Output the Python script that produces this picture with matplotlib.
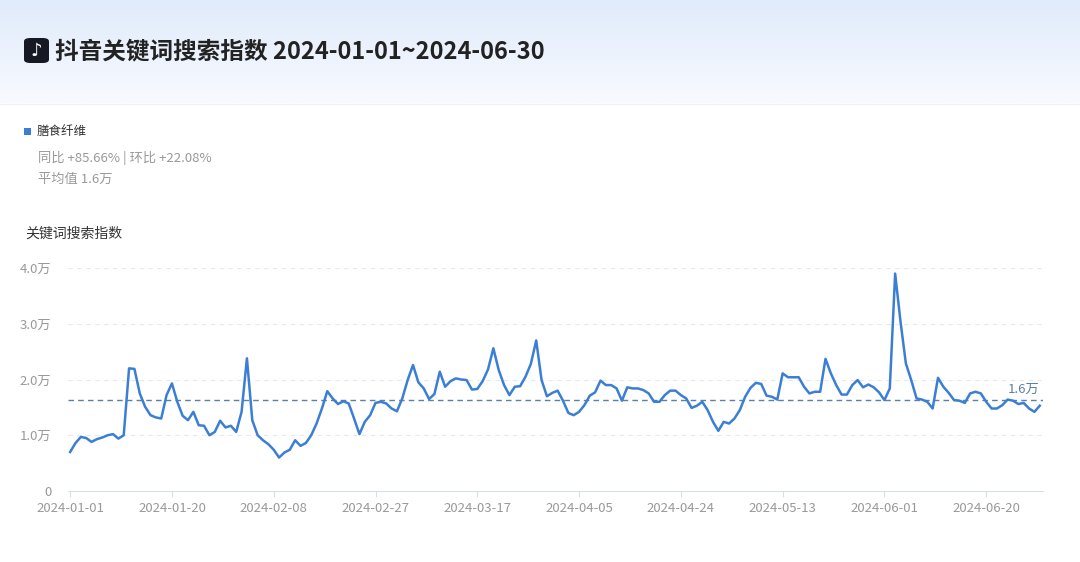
import numpy as np
import pandas as pd
import matplotlib
matplotlib.use('Agg')
import matplotlib.pyplot as plt
from matplotlib.patches import FancyBboxPatch, Rectangle

plt.rcParams['font.family'] = ['Noto Sans CJK SC', 'DejaVu Sans']

# 数据：2024-01-01 ~ 2024-06-30 每日搜索指数（单位：万）
dates = pd.date_range('2024-01-01', '2024-06-30', freq='D')
values = [
    0.70, 0.86, 0.97, 0.95, 0.88, 0.93, 0.96, 1.00, 1.02, 0.94,
    1.00, 2.20, 2.19, 1.75, 1.51, 1.36, 1.32, 1.30, 1.72, 1.93,
    1.60, 1.35, 1.27, 1.42, 1.18, 1.17, 1.00, 1.06, 1.26, 1.14,
    1.17, 1.06, 1.42, 2.38, 1.27, 1.00, 0.91, 0.84, 0.74, 0.60,
    0.69, 0.74, 0.91, 0.81, 0.86, 1.00, 1.21, 1.48, 1.79, 1.66,
    1.56, 1.61, 1.57, 1.30, 1.02, 1.24, 1.36, 1.58, 1.60, 1.57,
    1.48, 1.43, 1.66, 1.99, 2.26, 1.95, 1.84, 1.65, 1.74, 2.14,
    1.87, 1.97, 2.02, 2.00, 1.99, 1.82, 1.83, 1.97, 2.18, 2.56,
    2.17, 1.90, 1.72, 1.87, 1.88, 2.05, 2.28, 2.70, 1.99, 1.70,
    1.76, 1.80, 1.62, 1.40, 1.36, 1.42, 1.54, 1.71, 1.77, 1.98,
    1.90, 1.90, 1.84, 1.62, 1.86, 1.84, 1.84, 1.81, 1.75, 1.60,
    1.60, 1.72, 1.80, 1.80, 1.72, 1.66, 1.49, 1.53, 1.60, 1.45,
    1.24, 1.08, 1.24, 1.21, 1.30, 1.45, 1.69, 1.85, 1.94, 1.92,
    1.71, 1.69, 1.64, 2.11, 2.04, 2.04, 2.04, 1.87, 1.75, 1.78,
    1.78, 2.37, 2.11, 1.90, 1.73, 1.73, 1.90, 1.99, 1.86, 1.91,
    1.86, 1.77, 1.63, 1.84, 3.90, 3.04, 2.29, 1.99, 1.66, 1.64,
    1.60, 1.48, 2.03, 1.87, 1.76, 1.63, 1.62, 1.58, 1.75, 1.78,
    1.75, 1.60, 1.48, 1.48, 1.54, 1.64, 1.62, 1.56, 1.58, 1.48,
    1.42, 1.53,
]
series_name = '膳食纤维'
yoy = '+85.66%'
mom = '+22.08%'
avg_value = 1.63
avg_label = '1.6万'
y_ticks = [0, 1, 2, 3, 4]
y_labels = ['0', '1.0万', '2.0万', '3.0万', '4.0万']

line_color = '#3b7fd4'
gray = '#999999'

fig = plt.figure(figsize=(10.8, 5.62), dpi=100)

# 顶部渐变背景
bg = fig.add_axes([0, 0, 1, 1], zorder=-10)
bg.set_xlim(0, 1)
bg.set_ylim(0, 1)
bg.axis('off')
grad = np.linspace(0, 1, 100).reshape(-1, 1)
top = np.array([224, 235, 251]) / 255
bot = np.array([248, 250, 255]) / 255
img = top + (bot - top) * grad[..., None]
bg.imshow(img, extent=[0, 1, 1 - 103 / 562, 1], aspect='auto', zorder=0)
bg.plot([0, 1], [1 - 104 / 562, 1 - 104 / 562], color='#edf1f7', lw=1)

# 图标
icon = FancyBboxPatch((24 / 1080, 1 - 63 / 562), 25 / 1080, 25 / 562,
                      boxstyle='round,pad=0,rounding_size=0.006',
                      facecolor='#161823', edgecolor='none', zorder=2)
bg.add_patch(icon)
bg.text(36.5 / 1080, 1 - 51 / 562, '♪', color='white', fontsize=13,
        ha='center', va='center', family='DejaVu Sans', fontweight='bold', zorder=3)

fig.text(55 / 1080, 1 - 51 / 562, '抖音关键词搜索指数 2024-01-01~2024-06-30',
         fontsize=17, fontweight='bold', color='#222222', va='center')

# 图例与统计
bg.add_patch(Rectangle((24 / 1080, 1 - 135 / 562), 7 / 1080, 7 / 562,
                       facecolor=line_color, edgecolor='none'))
fig.text(37 / 1080, 1 - 132 / 562, series_name, fontsize=9, color='#333333', va='center')
fig.text(38 / 1080, 1 - 158 / 562, f'同比 {yoy} | 环比 {mom}', fontsize=9.5,
         color=gray, va='center')
fig.text(38 / 1080, 1 - 179 / 562, f'平均值 {avg_label}', fontsize=9.5, color=gray, va='center')
fig.text(25 / 1080, 1 - 234 / 562, '关键词搜索指数', fontsize=10, color='#333333', va='center')

# 主图
ax = fig.add_axes([68 / 1080, 1 - 491 / 562, (1043 - 68) / 1080, (491 - 268) / 562])
x = np.arange(len(dates))
ax.plot(x, values, color=line_color, lw=1.8, zorder=3)
ax.axhline(avg_value, color='#5b7fa6', lw=1, ls=(0, (4, 3)), zorder=2)
ax.text(181, avg_value + 0.07, avg_label, color='#5b7fa6', fontsize=9.5,
        ha='right', va='bottom')

ax.set_xlim(-0.4, 181.6)
ax.set_ylim(0, 4)
ax.set_yticks(y_ticks)
ax.set_yticklabels(y_labels)
xt = x[::19]
ax.set_xticks(xt)
ax.set_xticklabels([dates[i].strftime('%Y-%m-%d') for i in xt])
ax.tick_params(axis='y', length=0, pad=12, labelsize=9.5, labelcolor=gray)
ax.tick_params(axis='x', length=4, width=0.8, color='#d9dee8', pad=4,
               labelsize=9.5, labelcolor=gray)
for yv in y_ticks[1:]:
    ax.axhline(yv, color='#e6e9ef', lw=0.8, ls=(0, (4, 4)), zorder=1)
for s in ['top', 'right', 'left']:
    ax.spines[s].set_visible(False)
ax.spines['bottom'].set_color('#d9dee8')
ax.set_facecolor('none')

fig.savefig('out.png', dpi=100)
